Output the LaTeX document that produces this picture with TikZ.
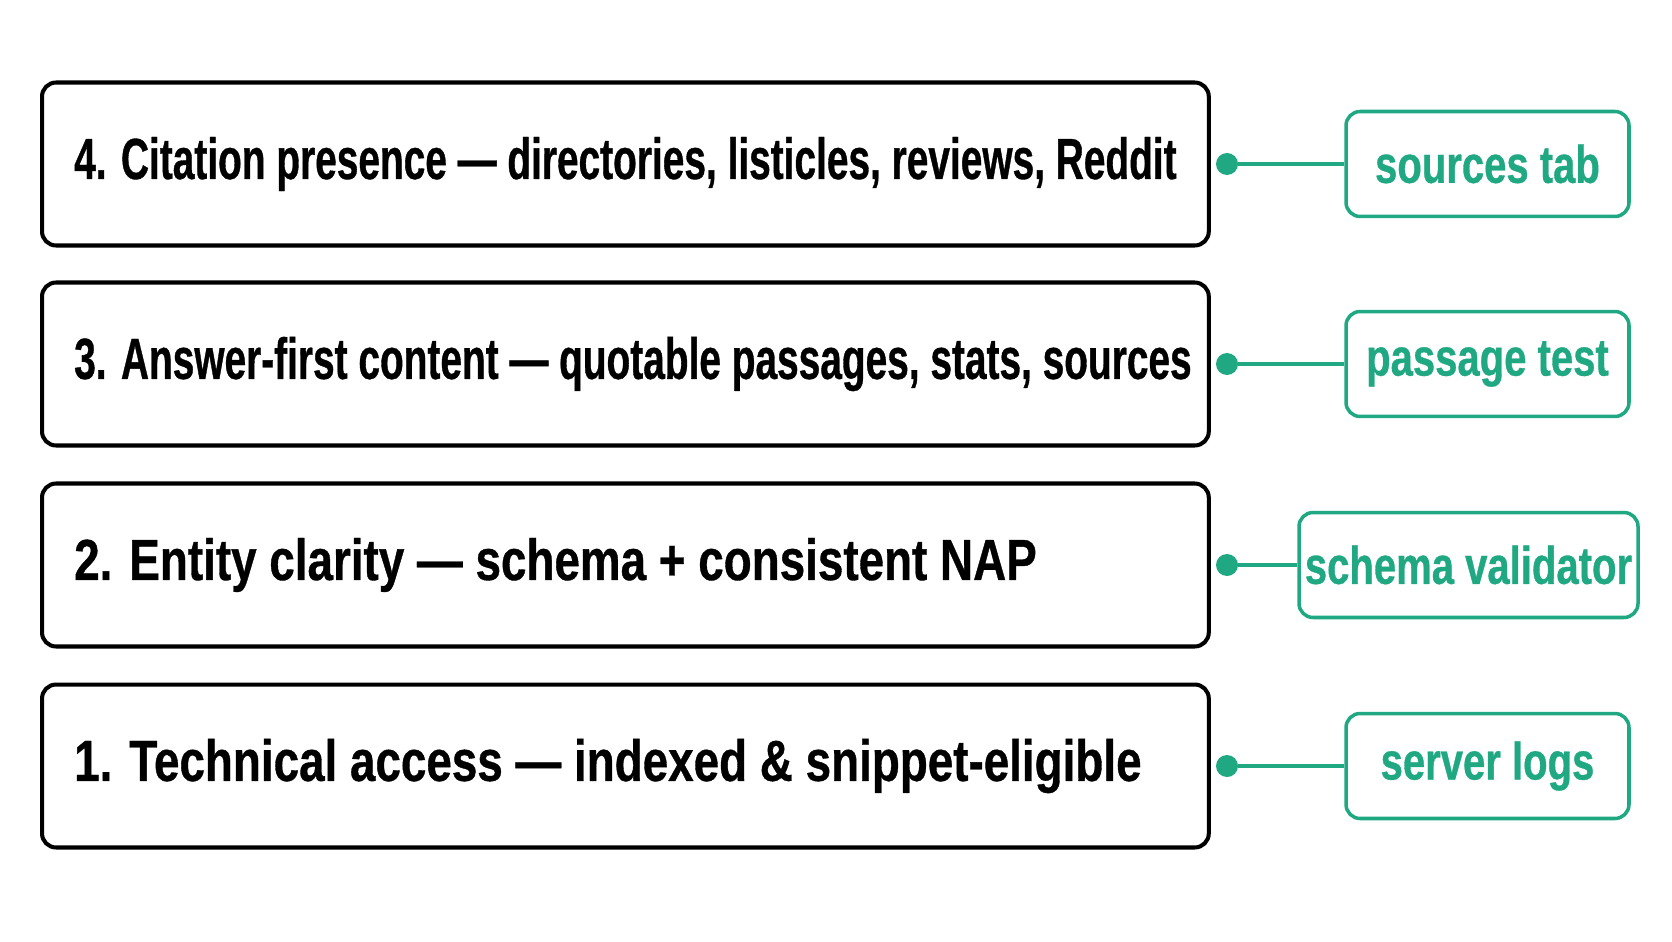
\documentclass[tikz,border=0pt]{standalone}
\usepackage{fontspec}
\setmainfont{Liberation Sans}
\newfontfamily\condfont{Liberation Sans}[FakeStretch=0.67,FakeBold=0.6]
\newfontfamily\widefont{Liberation Sans}[FakeStretch=0.79,FakeBold=0.6]
\newfontfamily\checkfont{Liberation Sans}[FakeStretch=0.76,FakeBold=0.6]
\usetikzlibrary{positioning}
\definecolor{tealgreen}{RGB}{31,168,130}

\tikzset{
	layer/.style={draw=black, line width=2.3pt, rounded corners=8pt, minimum width=23.34cm, minimum height=3.26cm, anchor=west},
	layertext/.style={anchor=west, font=\condfont\bfseries\fontsize{33}{36}\selectfont},
	shorttext/.style={layertext, font=\widefont\bfseries\fontsize{33}{36}\selectfont},
	check/.style={draw=tealgreen, line width=2pt, rounded corners=8pt, minimum height=2.1cm, text=tealgreen, font=\checkfont\bfseries\fontsize{30}{34}\selectfont},
	link/.style={draw=tealgreen, line width=2pt},
	dot/.style={circle, fill=tealgreen, inner sep=0pt, minimum size=0.44cm}
}

\begin{document}
\begin{tikzpicture}[x=0.02cm, y=0.02cm]
	\useasboundingbox[fill=white] (0,0) rectangle (1672,941);
	
	% layers, bottom to top
	\node[layer] (l4) at (40,777) {};
	\node[layer] (l3) at (40,577) {};
	\node[layer] (l2) at (40,376) {};
	\node[layer] (l1) at (40,175) {};
	
	\node[layertext] (t4) at (68,777) {4. Citation presence — directories, listicles, reviews, Reddit};
	\node[layertext] (t3) at (68,577) {3. Answer-first content — quotable passages, stats, sources};
	\node[shorttext] (t2) at (68,376) {2. Entity clarity — schema + consistent NAP};
	\node[shorttext] (t1) at (68,175) {1. Technical access — indexed \& snippet-eligible};
	
	% checks
	\node[check, minimum width=5.66cm] (c4) at (1487.5,777) {sources tab};
	\node[check, minimum width=5.66cm] (c3) at (1487.5,577) {passage test};
	\node[check, minimum width=6.42cm] (c2) at (1468.5,376) {schema validator};
	\node[check, minimum width=5.66cm] (c1) at (1487.5,175) {server logs};
	
	\foreach \i in {1,...,4} {
		\node[dot] (d\i) at (1227,0 |- c\i) {};
		\draw[link] (d\i) -- (c\i);
	}
\end{tikzpicture}
\end{document}
